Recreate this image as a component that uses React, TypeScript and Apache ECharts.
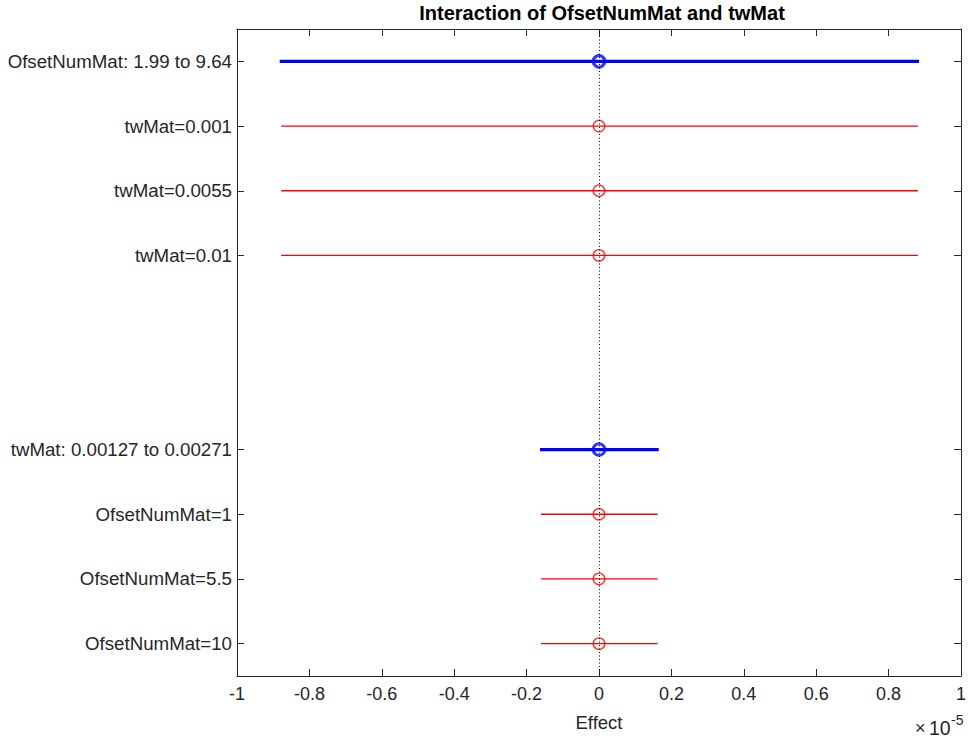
import React, { useEffect, useRef } from "react";
import * as echarts from "echarts";

// Values are in units of 1e-5 (the axis shows a ×10^-5 multiplier)
const rowLabels = [
  "OfsetNumMat: 1.99 to 9.64",
  "twMat=0.001",
  "twMat=0.0055",
  "twMat=0.01",
  " ",
  "  ",
  "twMat: 0.00127 to 0.00271",
  "OfsetNumMat=1",
  "OfsetNumMat=5.5",
  "OfsetNumMat=10",
];
// 'main' = overall effect, 'level' = conditional effect, null = empty row
const rowKind: (string | null)[] = ["main", "level", "level", "level", null, null, "main", "level", "level", "level"];
const effect: (number | null)[] = [0, 0, 0, 0, null, null, 0, 0, 0, 0];
const lower: (number | null)[] = [-0.882, -0.878, -0.878, -0.878, null, null, -0.163, -0.16, -0.16, -0.16];
const upper: (number | null)[] = [0.884, 0.881, 0.881, 0.881, null, null, 0.165, 0.162, 0.162, 0.162];
const xTicks = [-1, -0.8, -0.6, -0.4, -0.2, 0, 0.2, 0.4, 0.6, 0.8, 1];
const titleText = "Interaction of OfsetNumMat and twMat";
const xName = "Effect";

const FONT = "'Liberation Sans', Arial, Helvetica, sans-serif";
const TXT = "#262626";

export default function App() {
  const ref = useRef<HTMLDivElement>(null);
  useEffect(() => {
    if (!ref.current) return;
    const chart = echarts.init(ref.current, undefined, { renderer: "svg" });

    const rowsOf = (kind: string) =>
      rowLabels.map((_, i) => i).filter((i) => rowKind[i] === kind);
    const barData = (kind: string) => rowsOf(kind).map((i) => [lower[i], upper[i], i]);
    const ptData = (kind: string) => rowsOf(kind).map((i) => [effect[i], i]);

    const makeBar = (color: string, width: number) => (params: any, api: any) => {
      const lo = api.coord([api.value(0), api.value(2)]);
      const hi = api.coord([api.value(1), api.value(2)]);
      return {
        type: "line",
        shape: { x1: lo[0], y1: lo[1], x2: hi[0], y2: hi[1] },
        style: { stroke: color, lineWidth: width },
      };
    };

    const showRow = (index: number, value: string) => value.trim() !== "";

    const catAxisBase = {
      type: "category",
      data: rowLabels,
      inverse: true,
      boundaryGap: true,
      axisLine: { show: true, onZero: false, lineStyle: { color: TXT, width: 1 } },
      splitLine: { show: false },
    };

    const option: any = {
      animation: false,
      backgroundColor: "#fff",
      grid: { left: 237, right: 5, top: 29, bottom: 63 },
      xAxis: [
        {
          type: "value",
          min: -1,
          max: 1,
          interval: 0.2,
          position: "bottom",
          name: xName,
          nameLocation: "middle",
          nameGap: 37,
          nameTextStyle: { fontFamily: FONT, fontSize: 18.5, color: TXT },
          axisLine: { show: true, onZero: false, lineStyle: { color: TXT, width: 1 } },
          axisTick: { show: true, inside: true, length: 7, lineStyle: { color: TXT } },
          axisLabel: {
            margin: 9,
            fontFamily: FONT,
            fontSize: 18,
            color: TXT,
            formatter: (v: number) => {
              const t = xTicks.find((x) => Math.abs(x - v) < 1e-9);
              return String(t !== undefined ? t : Math.round(v * 10) / 10);
            },
          },
          splitLine: { show: false },
        },
        {
          type: "value",
          min: -1,
          max: 1,
          interval: 0.2,
          position: "top",
          axisLine: { show: true, onZero: false, lineStyle: { color: TXT, width: 1 } },
          axisTick: { show: true, inside: true, length: 7, lineStyle: { color: TXT } },
          axisLabel: { show: false },
          splitLine: { show: false },
        },
      ],
      yAxis: [
        {
          ...catAxisBase,
          position: "left",
          axisTick: { show: true, inside: true, length: 7, alignWithLabel: true, interval: showRow, lineStyle: { color: TXT } },
          axisLabel: { show: true, interval: 0, margin: 5, fontFamily: FONT, fontSize: 18.7, color: TXT },
        },
        {
          ...catAxisBase,
          position: "right",
          axisTick: { show: true, inside: true, length: 7, alignWithLabel: true, interval: showRow, lineStyle: { color: TXT } },
          axisLabel: { show: false },
        },
      ],
      series: [
        {
          type: "line",
          data: [],
          xAxisIndex: 0,
          yAxisIndex: 0,
          markLine: {
            silent: true,
            symbol: ["none", "none"],
            label: { show: false },
            lineStyle: { type: [1, 2.5], color: "#000", width: 1 },
            data: [{ xAxis: 0 }],
          },
        },
        {
          type: "custom",
          renderItem: makeBar("#ff0000", 1.3),
          data: barData("level"),
          encode: { x: [0, 1], y: 2 },
          z: 2,
        },
        {
          type: "custom",
          renderItem: makeBar("#0000ff", 3.3),
          data: barData("main"),
          encode: { x: [0, 1], y: 2 },
          z: 2,
        },
        {
          type: "scatter",
          data: ptData("level"),
          symbol: "circle",
          symbolSize: 11.5,
          itemStyle: { color: "transparent", borderColor: "#ff0000", borderWidth: 1.4 },
          z: 3,
        },
        {
          type: "scatter",
          data: ptData("main"),
          symbol: "circle",
          symbolSize: 11.5,
          itemStyle: { color: "transparent", borderColor: "#0000ff", borderWidth: 3 },
          z: 3,
        },
      ],
      graphic: [
        {
          type: "text",
          x: 602,
          y: 13,
          style: {
            text: titleText,
            fontFamily: FONT,
            fontSize: 20,
            fontWeight: "bold",
            fill: "#000",
            align: "center",
            verticalAlign: "middle",
          },
        },
        {
          type: "text",
          x: 915,
          y: 728,
          style: { text: "×", fontFamily: FONT, fontSize: 18, fill: TXT, align: "left", verticalAlign: "middle" },
        },
        {
          type: "text",
          x: 929,
          y: 728,
          style: { text: "10", fontFamily: FONT, fontSize: 19.5, fill: TXT, align: "left", verticalAlign: "middle" },
        },
        {
          type: "text",
          x: 951,
          y: 720,
          style: { text: "-5", fontFamily: FONT, fontSize: 14, fill: TXT, align: "left", verticalAlign: "middle" },
        },
      ],
    };
    chart.setOption(option);
    return () => chart.dispose();
  }, []);
  return <div ref={ref} style={{ width: 969, height: 739, position: "absolute", left: 0, top: 0 }} />;
}
